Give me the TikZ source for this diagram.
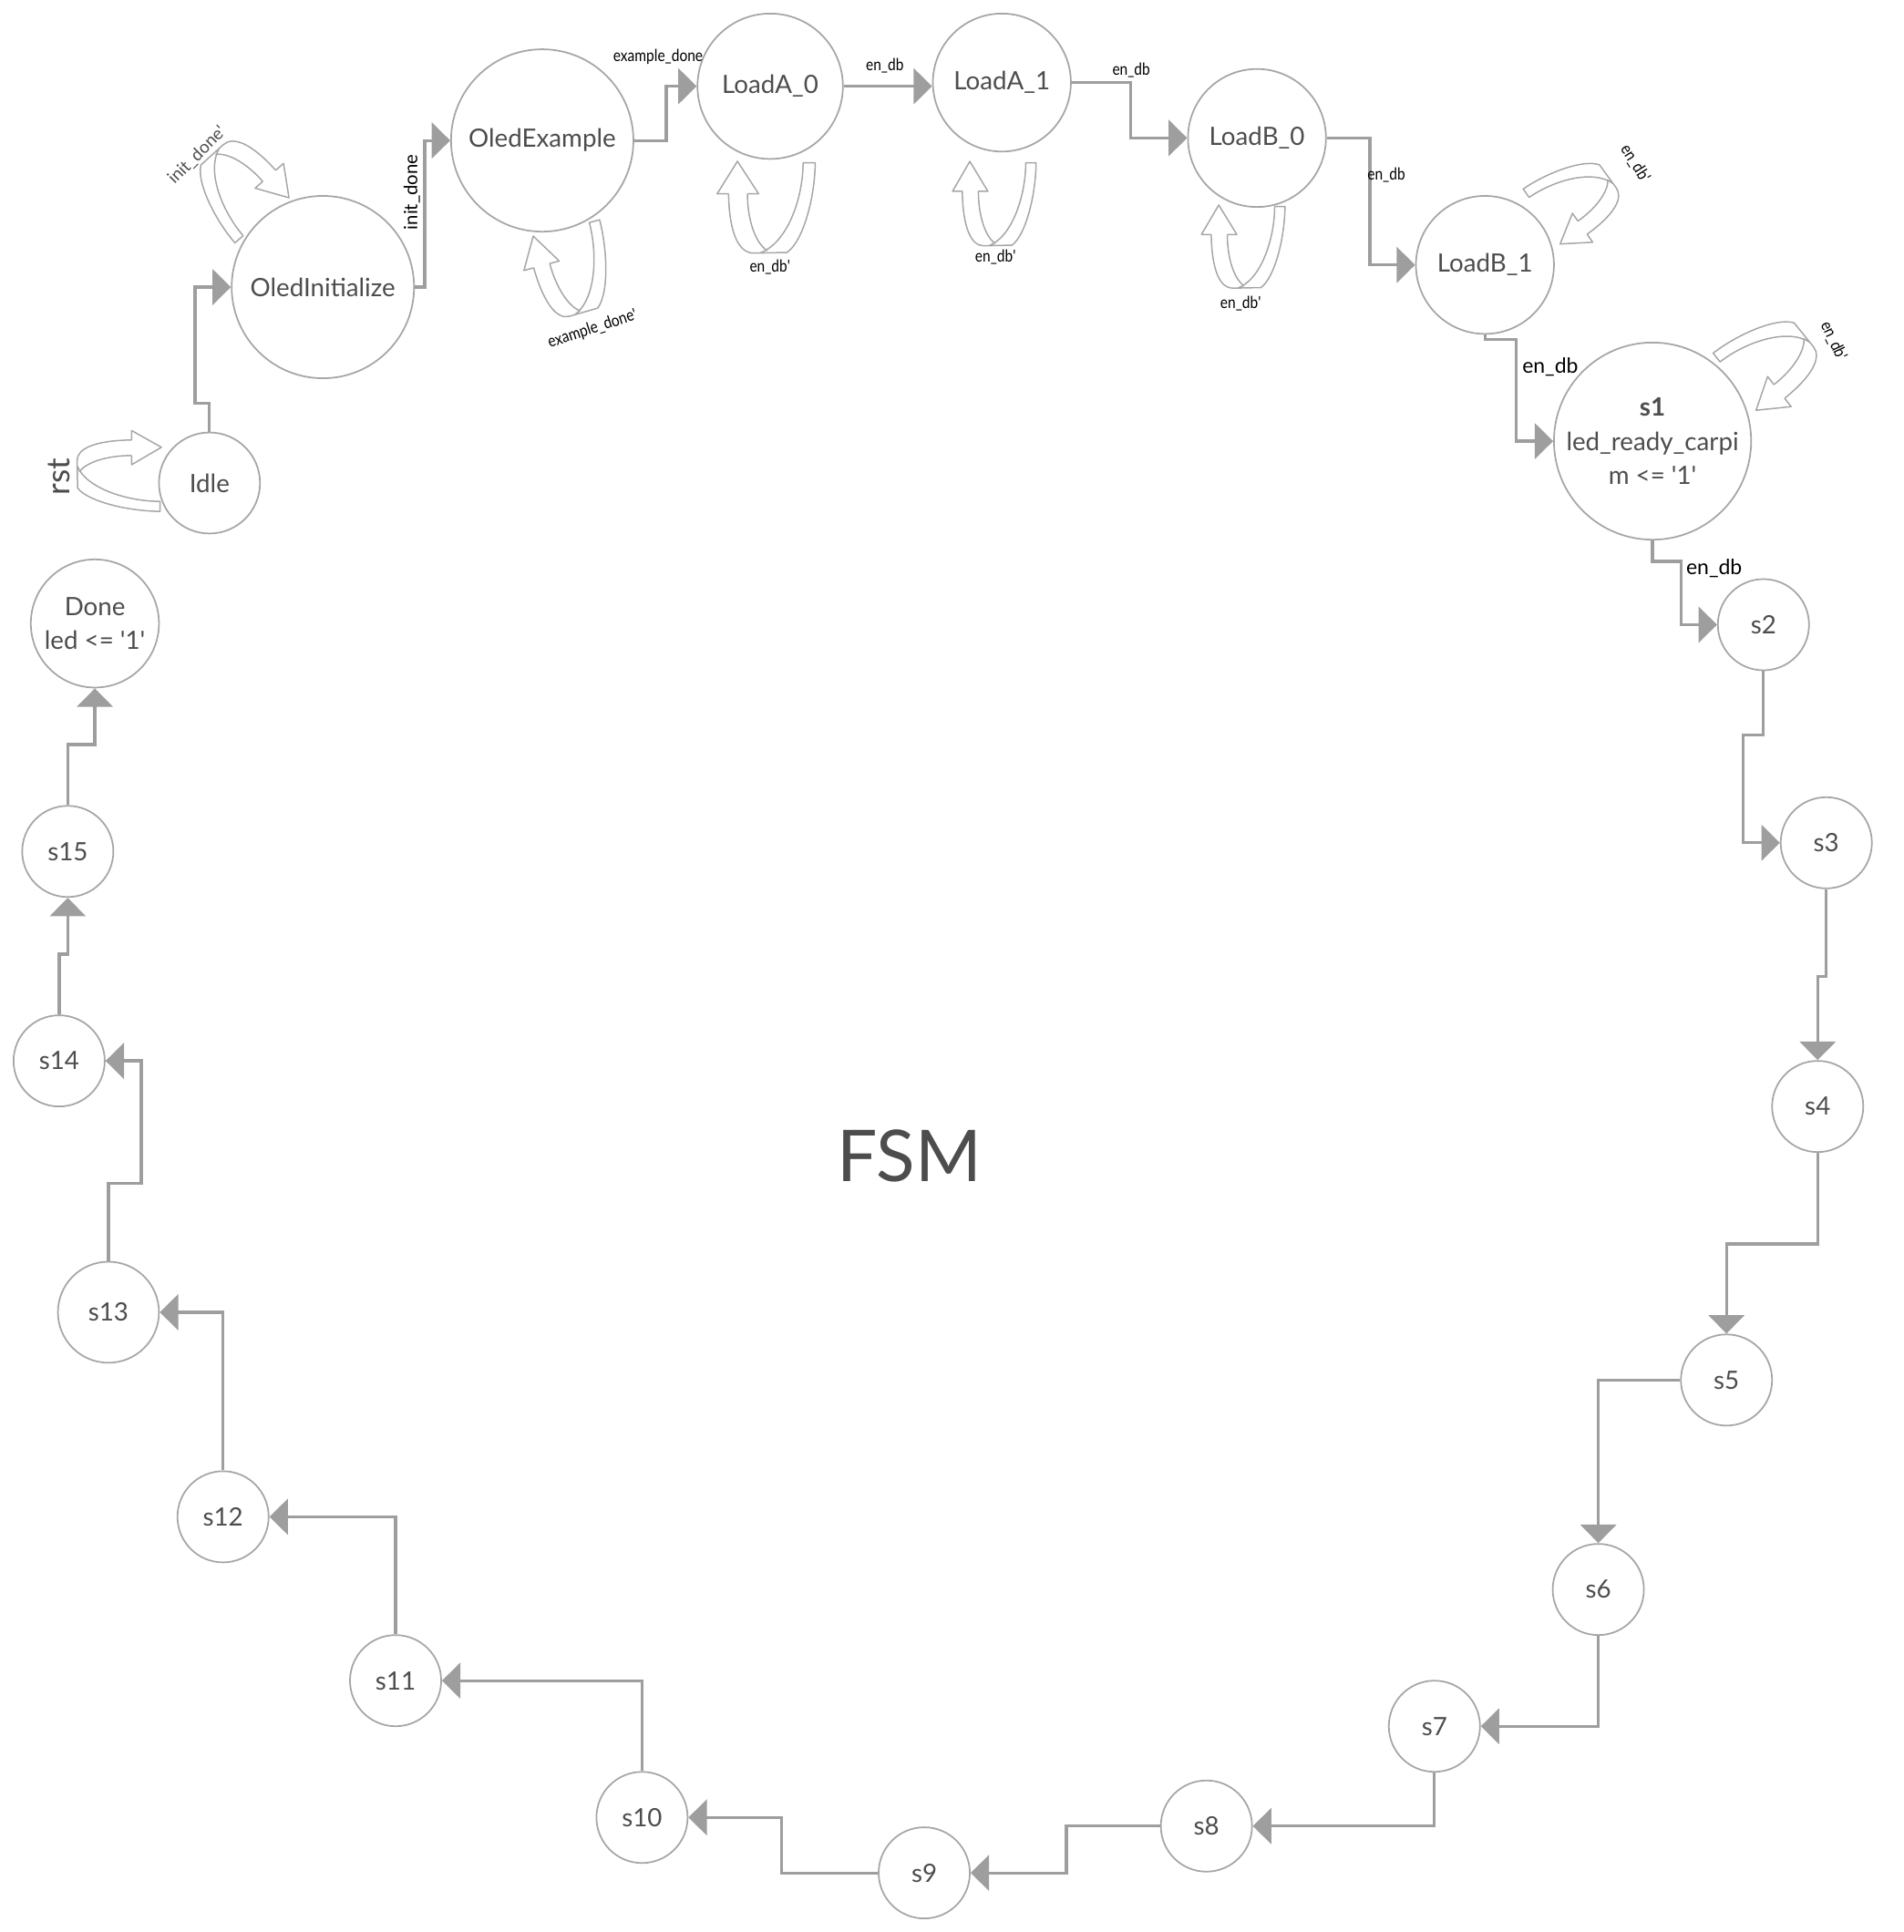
\documentclass[tikz,border=0pt]{standalone}
\usepackage{fontspec}
\setmainfont{Lato}
\newfontfamily\narrowfont{Lato}[FakeStretch=0.85]
\usetikzlibrary{arrows.meta,calc}
\definecolor{ringgray}{RGB}{166,166,166}
\definecolor{conngray}{RGB}{158,158,158}
\definecolor{txtgray}{RGB}{77,77,77}
\newcommand\q{\textquotesingle}
\newcommand\ribbon{%
  \draw[loopline] (-9.7,35.7) .. controls (-9,80) and (2,100.7) .. (17.7,100.7) -- (54.3,100) .. controls (72,88) and (85,40) .. (85.3,1.7) -- (72,1.7) .. controls (72,40) and (55,90) .. (24.3,100.7);
  \draw[loopline] (11,35.7) .. controls (11,65) and (20,90) .. (32.7,98);
  \draw[loopline] (-9.7,35.7) -- (-22.3,35.7) -- (0,0) -- (23.3,35.7) -- (11,35.7);
}
\tikzset{
  st/.style={circle, draw=ringgray, line width=1.3pt, fill=white, text=txtgray, inner sep=0pt, align=center, font=\fontsize{20.5}{28}\selectfont},
  conn/.style={draw=conngray, line width=2.4pt, -{Triangle[length=15pt,width=29pt]}},
  loopline/.style={draw=ringgray, line width=1.1pt, line join=round},
  small/.style={font=\narrowfont\fontsize{13.5}{15}\selectfont, text=black, inner sep=1pt},
  mid/.style={font=\fontsize{17}{19}\selectfont, text=black, inner sep=1pt},
  graylbl/.style={font=\fontsize{14}{16}\selectfont, text=txtgray, inner sep=1pt}
}
\begin{document}
\begin{tikzpicture}[x=1pt,y=-1pt]
\useasboundingbox (0,0) rectangle (1545,1568);
% states
\node[st, minimum size=82pt]  (idle)  at (170,392) {Idle};
\node[st, minimum size=148pt] (oinit) at (262,233) {OledInitialize};
\node[st, minimum size=148pt] (oex)   at (440,114) {OledExample};
\node[st, minimum size=118pt] (la0)   at (625,70)  {LoadA\_0};
\node[st, minimum size=112pt] (la1)   at (813,67)  {LoadA\_1};
\node[st, minimum size=112pt] (lb0)   at (1020,112) {LoadB\_0};
\node[st, minimum size=112pt] (lb1)   at (1205,215) {LoadB\_1};
\node[st, minimum size=160pt] (s1)    at (1341,358) {\textbf{s1}\\led\_ready\_carpi\\m <= \q1\q};
\node[st, minimum size=74pt] (s2)  at (1431,507)  {s2};
\node[st, minimum size=74pt] (s3)  at (1482,684)  {s3};
\node[st, minimum size=74pt] (s4)  at (1475,898)  {s4};
\node[st, minimum size=74pt] (s5)  at (1401,1120) {s5};
\node[st, minimum size=74pt] (s6)  at (1297,1290) {s6};
\node[st, minimum size=74pt] (s7)  at (1164,1401) {s7};
\node[st, minimum size=74pt] (s8)  at (979,1482)  {s8};
\node[st, minimum size=74pt] (s9)  at (750,1520)  {s9};
\node[st, minimum size=74pt] (s10) at (521,1475)  {s10};
\node[st, minimum size=74pt] (s11) at (321,1364)  {s11};
\node[st, minimum size=74pt] (s12) at (181,1231)  {s12};
\node[st, minimum size=82pt] (s13) at (88,1065)   {s13};
\node[st, minimum size=74pt] (s14) at (48,861)    {s14};
\node[st, minimum size=74pt] (s15) at (55,691)    {s15};
\node[st, minimum size=104pt] (done) at (77,506)  {Done\\led <= \q1\q};
\node[text=txtgray, font=\fontsize{58}{60}\selectfont] (title) at (738,938) {FSM};
% connectors
\draw[conn] (idle.north) -- ++(0,-23) -| ([xshift=-29pt]oinit.west) -- (oinit.west);
\draw[conn] (oinit.east) -- ++(8,0) |- (oex.west);
\draw[conn] (oex.east) -- ++(26,0) |- (la0.west);
\draw[conn] (la0.east) -- (la0.east -| la1.west);
\draw[conn] (la1.east) -- ++(48,0) |- (lb0.west);
\draw[conn] (lb0.east) -- ++(35,0) |- (lb1.west);
\draw[conn] (lb1.south) -- ++(0,4) -| ([xshift=-30pt]s1.west) -- (s1.west);
\draw[conn] (s1.south) -- ++(0,17) -| ([xshift=-29pt]s2.west) -- (s2.west);
\draw[conn] (s2.south) -- ++(0,52) -| ([xshift=-30pt]s3.west) -- (s3.west);
\draw[conn] (s3.south) -- ++(0,71) -| (s4.north);
\draw[conn] (s4.south) -- ++(0,74) -| (s5.north);
\draw[conn] (s5.west) -| (s6.north);
\draw[conn] (s6.south) |- (s7.east);
\draw[conn] (s7.south) |- (s8.east);
\draw[conn] (s8.west) -- ++(-76,0) |- (s9.east);
\draw[conn] (s9.west) -- ++(-78,0) |- (s10.east);
\draw[conn] (s10.north) |- (s11.east);
\draw[conn] (s11.north) |- (s12.east);
\draw[conn] (s12.north) |- (s13.east);
\draw[conn] (s13.north) -- ++(0,-63) -| ([xshift=29pt]s14.east) -- (s14.east);
\draw[conn] (s14.north) -- ++(0,-49) -| (s15.south);
\draw[conn] (s15.north) -- ++(0,-49) -| (done.south);
% connector labels
\node[font=\fontsize{15}{17}\selectfont, rotate=90, anchor=south, inner sep=2pt] (linit) at (343,156) {init\_done};
\node[small] (lex) at (534,46) {example\_done};
\node[small] (l1) at (718,53) {en\_db};
\node[small] (l2) at (918,57) {en\_db};
\node[small] (l3) at (1125,142) {en\_db};
\node[mid] (l4) at (1258,298) {en\_db};
\node[mid] (l5) at (1391,461) {en\_db};
% self loops
\begin{scope}[shift={(131,363)}, rotate=-90, xscale=0.61, yscale=0.68]\ribbon\end{scope}
\begin{scope}[shift={(234.5,160.5)}, rotate=-139, scale=0.67]\ribbon\end{scope}
\begin{scope}[shift={(432.7,191.6)}, rotate=15, xscale=0.65, yscale=0.7]\ribbon\end{scope}
\begin{scope}[shift={(598.4,130.9)}, scale=0.74]\ribbon\end{scope}
\begin{scope}[shift={(787,131)}, xscale=0.63, yscale=0.68]\ribbon\end{scope}
\begin{scope}[shift={(989,166.4)}, xscale=0.63, yscale=0.67]\ribbon\end{scope}
\begin{scope}[shift={(1266,198)}, rotate=125, scale=0.63]\ribbon\end{scope}
\begin{scope}[shift={(1425,333)}, rotate=128, scale=0.68]\ribbon\end{scope}
% loop labels
\node[font=\fontsize{26}{28}\selectfont, text=txtgray, rotate=90] (lrst) at (48,387) {rst};
\node[graylbl, rotate=45] (linit2) at (160,126) {init\_done\q};
\node[small, rotate=18] (lex2) at (481,267) {example\_done\q};
\node[small] (la0l) at (625,217) {en\_db\q};
\node[small] (la1l) at (808,209) {en\_db\q};
\node[small] (lb0l) at (1007,246) {en\_db\q};
\node[small, rotate=-58] (lb1l) at (1327,133) {en\_db\q};
\node[small, rotate=-65] (s1l) at (1488,277) {en\_db\q};
\end{tikzpicture}
\end{document}
